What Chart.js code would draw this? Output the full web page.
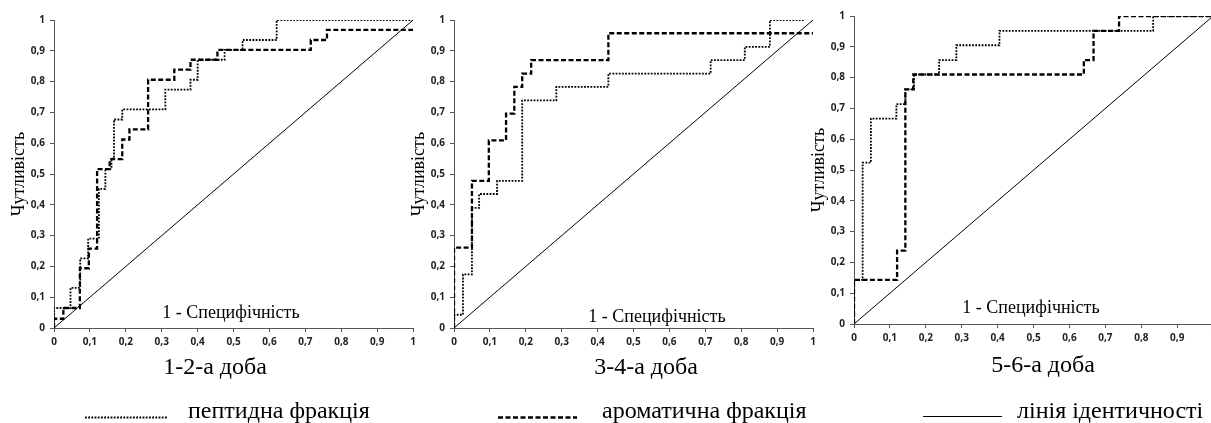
<!DOCTYPE html>
<html>
<head>
<meta charset="utf-8">
<script src="https://cdn.jsdelivr.net/npm/chart.js@4/dist/chart.umd.min.js"></script>
<style>
  html, body { margin: 0; padding: 0; background: #fff; overflow: hidden; }
  body { width: 1211px; height: 423px; position: relative; }
  canvas { position: absolute; top: 0; }
</style>
</head>
<body>
<canvas id="roc1" width="420" height="423" style="left:0px"></canvas>
<canvas id="roc2" width="420" height="423" style="left:400px"></canvas>
<canvas id="roc3" width="420" height="423" style="left:800px"></canvas>
<script>
// labels
const days = ["1-2-а доба", "3-4-а доба", "5-6-а доба"];
const seriesNames = ["пептидна фракція", "ароматична фракція", "лінія ідентичності"];
const xTitle = "1 - Специфічність";
const yTitle = "Чутливість";
const tickLabels = ["0", "0,1", "0,2", "0,3", "0,4", "0,5", "0,6", "0,7", "0,8", "0,9", "1"];

// 1-2 day
const peptideFpr1 = [0, 0, 0.046, 0.073, 0.095, 0.125, 0.143, 0.16, 0.167, 0.19, 0.31, 0.38, 0.4, 0.475, 0.525, 0.62, 1];
const peptideTpr1 = [0, 0.065, 0.13, 0.226, 0.29, 0.452, 0.516, 0.55, 0.677, 0.71, 0.774, 0.806, 0.871, 0.903, 0.935, 1, 1];
const aromaticFpr1 = [0, 0, 0.026, 0.072, 0.097, 0.12, 0.155, 0.19, 0.21, 0.262, 0.335, 0.38, 0.455, 0.715, 0.76, 1];
const aromaticTpr1 = [0, 0.03, 0.065, 0.194, 0.258, 0.516, 0.548, 0.612, 0.645, 0.806, 0.839, 0.871, 0.903, 0.935, 0.968, 0.968];

// 3-4 day
const peptideFpr2 = [0, 0, 0.025, 0.05, 0.07, 0.12, 0.19, 0.285, 0.43, 0.715, 0.81, 0.88, 0.975];
const peptideTpr2 = [0, 0.043, 0.174, 0.39, 0.435, 0.478, 0.739, 0.783, 0.826, 0.87, 0.913, 1, 1];
const aromaticFpr2 = [0, 0, 0.05, 0.097, 0.145, 0.168, 0.19, 0.215, 0.43, 1];
const aromaticTpr2 = [0, 0.261, 0.478, 0.609, 0.696, 0.783, 0.826, 0.87, 0.957, 0.957];

// 5-6 day
const peptideFpr3 = [0, 0, 0.024, 0.047, 0.118, 0.143, 0.167, 0.237, 0.285, 0.405, 0.833, 1];
const peptideTpr3 = [0, 0.143, 0.524, 0.667, 0.714, 0.762, 0.81, 0.857, 0.905, 0.952, 1, 1];
const aromaticFpr3 = [0, 0, 0.12, 0.143, 0.165, 0.64, 0.667, 0.738, 1];
const aromaticTpr3 = [0, 0.143, 0.238, 0.762, 0.81, 0.857, 0.952, 1, 1];

const identityX = [0, 1];
const identityY = [0, 1];

const serif = '"Liberation Serif", "Times New Roman", serif';
const axisColor = "#555";

function points(xs, ys) {
  return xs.map((x, i) => ({ x: x, y: ys[i] }));
}

// draws the inner axis caption, the day label and one legend entry per panel
const panelText = {
  id: "panelText",
  afterDraw(chart, args, opts) {
    let { ctx, chartArea } = chart;
    let { left, bottom } = chartArea;
    ctx.save();
    ctx.fillStyle = "#000";
    ctx.textBaseline = "alphabetic";
    ctx.textAlign = "center";
    ctx.font = "18px " + serif;
    ctx.fillText(xTitle, left + opts.innerX, bottom - opts.innerY);
    ctx.font = "24px " + serif;
    ctx.fillText(opts.caption, left + opts.captionX, bottom + opts.captionY);

    let ds = chart.data.datasets[opts.legendIndex];
    ctx.strokeStyle = ds.borderColor;
    ctx.lineWidth = ds.borderWidth;
    ctx.setLineDash(ds.borderDash || []);
    ctx.beginPath();
    ctx.moveTo(left + opts.keyX, bottom + opts.keyY + 0.5);
    ctx.lineTo(left + opts.keyX + opts.keyW, bottom + opts.keyY + 0.5);
    ctx.stroke();
    ctx.setLineDash([]);
    ctx.textAlign = "left";
    ctx.font = "24px " + serif;
    ctx.fillText(ds.label, left + opts.textX, bottom + opts.textY);
    ctx.restore();
  },
};

function makeChart(id, peptide, aromatic, pad, axisHeight, text) {
  return new Chart(document.getElementById(id), {
    type: "scatter",
    data: {
      datasets: [
        {
          label: seriesNames[2],
          data: points(identityX, identityY),
          showLine: true,
          borderColor: "#000",
          borderWidth: 1,
          pointRadius: 0,
        },
        {
          label: seriesNames[0],
          data: peptide,
          showLine: true,
          stepped: "before",
          borderColor: "#000",
          borderWidth: 1.8,
          borderDash: [1.8, 1.4],
          pointRadius: 0,
        },
        {
          label: seriesNames[1],
          data: aromatic,
          showLine: true,
          stepped: "before",
          borderColor: "#000",
          borderWidth: 2.3,
          borderDash: [5, 2.5],
          pointRadius: 0,
        },
      ],
    },
    plugins: [panelText],
    options: {
      responsive: false,
      animation: false,
      events: [],
      layout: { padding: pad },
      plugins: {
        legend: { display: false },
        tooltip: { enabled: false },
        panelText: text,
      },
      scales: {
        x: {
          type: "linear",
          min: 0,
          max: 1,
          afterFit: (scale) => {
            scale.height = axisHeight;
          },
          ticks: {
            stepSize: 0.1,
            maxRotation: 0,
            autoSkip: false,
            padding: 4,
            color: "#222",
            font: { family: "Open Sans", size: 10, weight: "bold" },
            callback: (v) => tickLabels[Math.round(v * 10)],
          },
          grid: { drawOnChartArea: false, drawTicks: true, tickLength: 4, color: axisColor },
          border: { color: axisColor, width: 1 },
        },
        y: {
          type: "linear",
          min: 0,
          max: 1,
          afterFit: (scale) => {
            scale.width = 54;
          },
          title: {
            display: true,
            text: yTitle,
            color: "#000",
            padding: { top: 8, bottom: 0 },
            font: { family: "Liberation Serif", size: 18 },
          },
          ticks: {
            stepSize: 0.1,
            autoSkip: false,
            padding: 5,
            color: "#222",
            font: { family: "Open Sans", size: 10, weight: "bold" },
            callback: (v) => tickLabels[Math.round(v * 10)],
          },
          grid: { drawOnChartArea: false, drawTicks: true, tickLength: 4, color: axisColor },
          border: { color: axisColor, width: 1 },
        },
      },
    },
  });
}

makeChart(
  "roc1",
  points(peptideFpr1, peptideTpr1),
  points(aromaticFpr1, aromaticTpr1),
  { left: 0, top: 20, right: 6, bottom: 0 },
  95,
  { caption: days[0], innerX: 177, innerY: 10, captionX: 161, captionY: 46, legendIndex: 1, keyX: 31, keyW: 82, keyY: 89, textX: 134, textY: 90 }
);
makeChart(
  "roc2",
  points(peptideFpr2, peptideTpr2),
  points(aromaticFpr2, aromaticTpr2),
  { left: 0, top: 20, right: 7, bottom: 0 },
  95,
  { caption: days[1], innerX: 203, innerY: 6, captionX: 192, captionY: 46, legendIndex: 2, keyX: 44, keyW: 79, keyY: 89, textX: 148, textY: 90 }
);
makeChart(
  "roc3",
  points(peptideFpr3, peptideTpr3),
  points(aromaticFpr3, aromaticTpr3),
  { left: 0, top: 16, right: 6, bottom: 0 },
  99,
  { caption: days[2], innerX: 177, innerY: 11, captionX: 189, captionY: 48, legendIndex: 0, keyX: 69, keyW: 79, keyY: 92, textX: 163, textY: 94 }
);
</script>
</body>
</html>
